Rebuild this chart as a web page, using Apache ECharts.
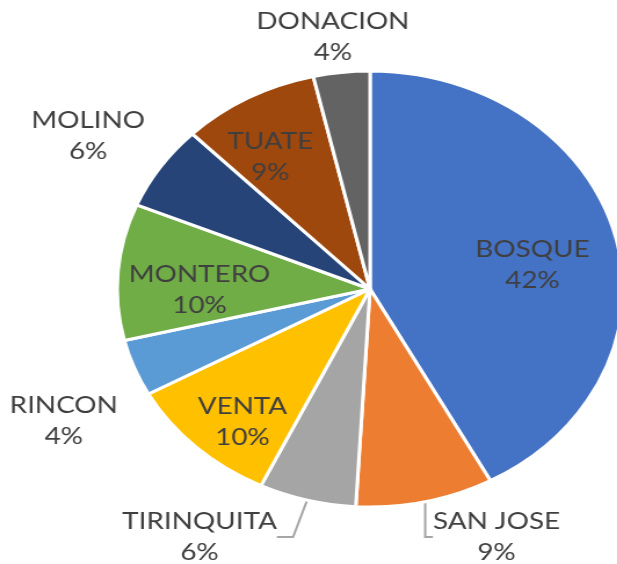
<!DOCTYPE html>
<html>
<head>
<meta charset="utf-8">
<script src="https://cdn.jsdelivr.net/npm/echarts@6/dist/echarts.min.js"></script>
<style>
  html, body { margin: 0; padding: 0; background: #fff; overflow: hidden; }
  /* the original is stretched sideways, so draw narrow and scale in x */
  #chart { width: 532px; height: 564px; transform: scaleX(1.16); transform-origin: 0 0; }
</style>
</head>
<body>
<div id="chart"></div>
<script>
// slices clockwise from 12 o'clock
const names = ['BOSQUE', 'SAN JOSE', 'TIRINQUITA', 'VENTA', 'RINCON', 'MONTERO', 'MOLINO', 'TUATE', 'DONACION'];
const values = [42.1, 8.8, 6.2, 9.9, 4.2, 10.1, 6.3, 8.8, 3.6];
const colors = ['#4472C4', '#ED7D31', '#A5A5A5', '#FFC000', '#5B9BD5', '#70AD47', '#264478', '#9E480E', '#636363'];

// label placement (unscaled px), inside labels sit on the slice
const labelAt = {
  'BOSQUE': [459, 265], 'TUATE': [233, 157], 'MONTERO': [172, 290], 'VENTA': [209, 422],
  'DONACION': [287, 37], 'MOLINO': [76, 136], 'RINCON': [55, 421],
  'TIRINQUITA': [172, 537], 'SAN JOSE': [428, 537]
};
const withLine = ['TIRINQUITA', 'SAN JOSE'];

const chart = echarts.init(document.getElementById('chart'));
chart.setOption({
  animation: false,
  series: [{
    type: 'pie',
    center: [319, 289],
    radius: [0, 218],
    startAngle: 90,
    clockwise: true,
    avoidLabelOverlap: false,
    itemStyle: { borderColor: '#fff', borderWidth: 3 },
    label: {
      show: true,
      position: 'outside',
      color: '#3F3F3F',
      fontFamily: 'Lato',
      fontSize: 24,
      lineHeight: 31,
      formatter: p => p.name + '\n' + Math.round(p.percent) + '%'
    },
    labelLine: { show: false, lineStyle: { color: '#A6A6A6', width: 2 }, length: 12, length2: 14 },
    labelLayout: p => {
      const pos = labelAt[names[p.dataIndex]];
      return { x: pos[0], y: pos[1], align: 'center', verticalAlign: 'middle' };
    },
    data: names.map((n, i) => ({
      name: n,
      value: values[i],
      itemStyle: { color: colors[i] },
      labelLine: { show: withLine.includes(n) }
    }))
  }]
});
</script>
</body>
</html>
